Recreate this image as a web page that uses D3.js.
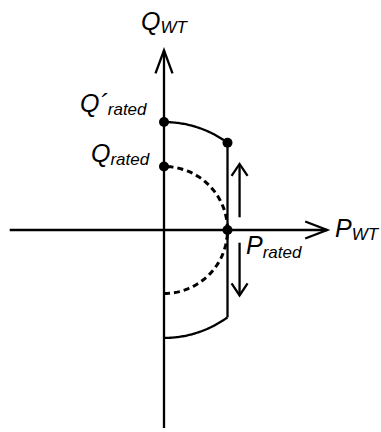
<!DOCTYPE html>
<html>
<head>
<meta charset="utf-8">
<script src="https://cdn.jsdelivr.net/npm/d3@7"></script>
<style>
  html, body { margin: 0; padding: 0; background: #fff; }
  svg { display: block; }
  text { font-family: "Liberation Sans", Arial, sans-serif; font-style: italic; fill: #000; }
</style>
</head>
<body>
<svg id="chart" width="381" height="432"></svg>
<script>
// Capability diagram of a wind turbine in the P–Q plane (per-unit values)
const pRated = 1.0;          // rated active power
const qRated = 1.0;          // rated reactive power (dashed circle radius)
const qRatedExt = 1.70;      // extended reactive limit Q'rated (solid arc radius)
const axisP = [-2.43, 2.57]; // horizontal axis extent
const axisQ = [-3.12, 2.83]; // vertical axis extent
const arrowUp = [0.20, 1.04];    // Q-range of the upward arrow just right of rated P
const arrowDown = [-0.20, -1.03];
const arrowP = 1.19;

const svg = d3.select("#chart");
const unit = 63.5;
const ox = 164, oy = 230;
const x = d3.scaleLinear().domain([0, 1]).range([ox, ox + unit]);
const y = d3.scaleLinear().domain([0, 1]).range([oy, oy - unit]);

const g = svg.append("g");
const lw = 2.3;

// axes
g.append("line").attr("x1", x(axisP[0])).attr("x2", x(axisP[1]))
  .attr("y1", y(0)).attr("y2", y(0)).attr("stroke", "#000").attr("stroke-width", lw);
g.append("line").attr("x1", x(0)).attr("x2", x(0))
  .attr("y1", y(axisQ[0])).attr("y2", y(axisQ[1])).attr("stroke", "#000").attr("stroke-width", lw);

// open arrowheads
function head(tx, ty, dir, len, half) {
  const [dx, dy] = dir;
  const bx = tx - dx * len, by = ty - dy * len;
  const px = -dy, py = dx;
  g.append("path")
    .attr("d", d3.line()([[bx + px * half, by + py * half], [tx, ty], [bx - px * half, by - py * half]]))
    .attr("fill", "none").attr("stroke", "#000").attr("stroke-width", lw)
    .attr("stroke-linejoin", "miter");
}
head(x(axisP[1]), y(0), [1, 0], 22, 8.5);
head(x(0), y(axisQ[1]), [0, -1], 23, 8.5);

// dashed rated circle (right half)
const semi = d3.range(-90, 90.01, 2).map(a => {
  const r = a * Math.PI / 180;
  return [x(pRated * Math.cos(r)), y(qRated * Math.sin(r))];
});
g.append("path").attr("d", d3.line()(semi))
  .attr("fill", "none").attr("stroke", "#000").attr("stroke-width", 3)
  .attr("stroke-dasharray", "6,4");

// solid extended capability boundary
const qEdge = Math.sqrt(qRatedExt * qRatedExt - pRated * pRated);
const arcPts = (sign) => d3.range(0, 1.0001, 0.02).map(t => {
  const p = t * pRated;
  return [x(p), y(sign * Math.sqrt(qRatedExt * qRatedExt - p * p))];
});
g.append("path").attr("d", d3.line()(arcPts(1))).attr("fill", "none").attr("stroke", "#000").attr("stroke-width", lw);
g.append("path").attr("d", d3.line()(arcPts(-1))).attr("fill", "none").attr("stroke", "#000").attr("stroke-width", lw);
g.append("line").attr("x1", x(pRated)).attr("x2", x(pRated))
  .attr("y1", y(qEdge)).attr("y2", y(-qEdge)).attr("stroke", "#000").attr("stroke-width", lw);

// up / down arrows
g.append("line").attr("x1", x(arrowP)).attr("x2", x(arrowP))
  .attr("y1", y(arrowUp[0])).attr("y2", y(arrowUp[1])).attr("stroke", "#000").attr("stroke-width", lw);
head(x(arrowP), y(arrowUp[1]), [0, -1], 12, 8);
g.append("line").attr("x1", x(arrowP)).attr("x2", x(arrowP))
  .attr("y1", y(arrowDown[0])).attr("y2", y(arrowDown[1])).attr("stroke", "#000").attr("stroke-width", lw);
head(x(arrowP), y(arrowDown[1]), [0, 1], 12, 8);

// marker dots
const dots = [[0, qRatedExt], [0, qRated], [pRated, qEdge], [pRated, 0]];
g.selectAll("circle.dot").data(dots).enter().append("circle")
  .attr("cx", d => x(d[0])).attr("cy", d => y(d[1])).attr("r", 5).attr("fill", "#000");

// labels
function label(px, py, main, sub, subDy, accent) {
  const t = g.append("text").attr("x", px).attr("y", py).attr("font-size", 25);
  t.append("tspan").text(main);
  if (accent) t.append("tspan").text(accent);
  t.append("tspan").attr("font-size", 17).attr("dy", subDy).text(sub);
}
label(141, 30, "Q", "WT", 3);
label(80, 112, "Q", "rated", 3, "´");
label(91, 162, "Q", "rated", 3);
label(246, 254, "P", "rated", 4);
label(335, 237, "P", "WT", 3);
</script>
</body>
</html>
